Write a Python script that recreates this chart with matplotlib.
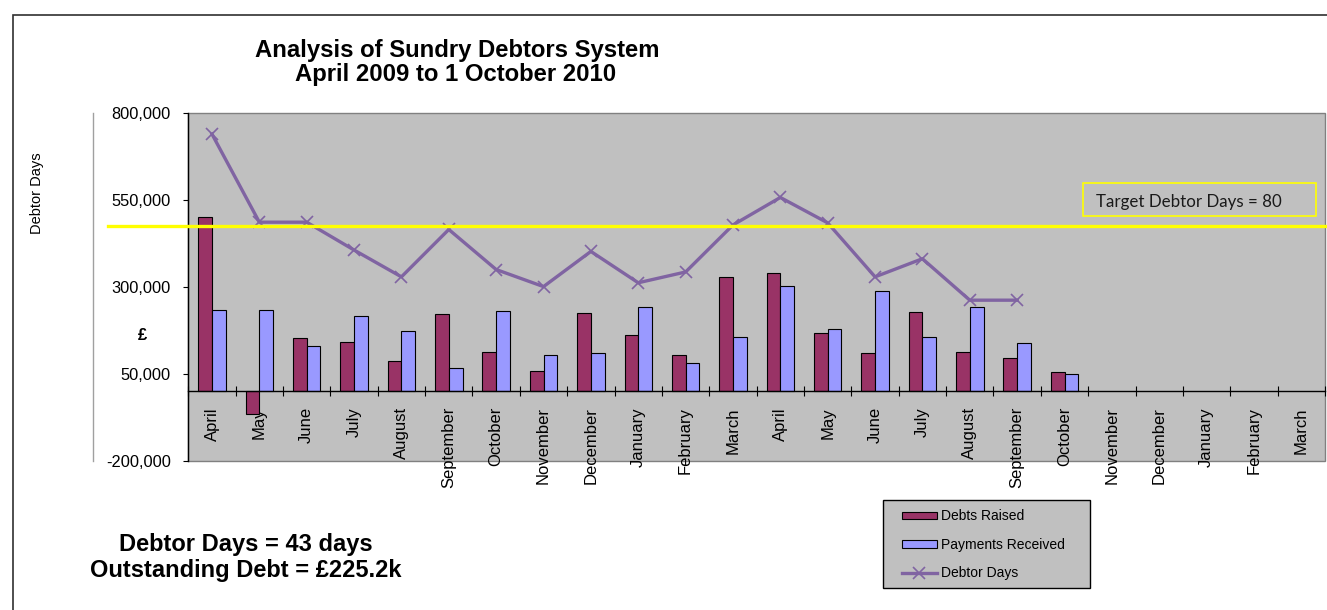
import numpy as np
import matplotlib
matplotlib.use("Agg")
import matplotlib.pyplot as plt
from matplotlib.patches import Rectangle
from matplotlib.lines import Line2D
from matplotlib.ticker import FixedLocator, NullFormatter, FuncFormatter

plt.rcParams['font.family'] = ['Liberation Sans', 'DejaVu Sans']

## data
months = ["April", "May", "June", "July", "August", "September", "October",
          "November", "December", "January", "February", "March"] * 2
debts_raised = [500000, -66000, 153000, 141000, 86000, 220000, 112000, 59000,
                223000, 160000, 104000, 327000, 339000, 167000, 108000, 227000,
                112000, 96000, 55000]
payments_received = [232000, 232000, 130000, 216000, 172000, 67000, 231000, 104000,
                     108000, 241000, 81000, 156000, 302000, 178000, 286000, 156000,
                     241000, 137000, 48000]
debtor_days = [738000, 485000, 485000, 405000, 328000, 464000, 349000, 300000,
               401000, 311000, 342000, 477000, 556000, 483000, 328000, 380000,
               261000, 261000]
target_level = 473000
y_ticks = [-200000, 50000, 300000, 550000, 800000]

W, H = 1327, 610
def fx(x):
    return x / W
def fy(y):
    return 1 - y / H

fig = plt.figure(figsize=(W / 100, H / 100), dpi=100)

## outer chart frame and the odd gray line left of the axis
fig.add_artist(Rectangle((fx(13.3), fy(700)), (1400 - 13.3) / W, (700 - 14.7) / H,
                         transform=fig.transFigure, fill=False, edgecolor='#303030', lw=1.2))
fig.add_artist(Line2D([fx(92.7), fx(92.7)], [fy(112.7), fy(460.7)],
                      transform=fig.transFigure, color='#A0A0A0', lw=1))

left, right, top, bottom = 188.3, 1325, 112.5, 460.7
ax = fig.add_axes([fx(left), fy(bottom), (right - left) / W, (bottom - top) / H])
ax.patch.set_facecolor('#C0C0C0')
ax.patch.set_edgecolor('#808080')
ax.patch.set_linewidth(1)

x_dr = np.arange(len(debts_raised))
x_pr = np.arange(len(payments_received))
x_dd = np.arange(len(debtor_days))
bw = 0.29
b1 = ax.bar(x_dr - bw / 2, debts_raised, bw, color='#993366', edgecolor='black', lw=0.8, zorder=2)
b2 = ax.bar(x_pr + bw / 2, payments_received, bw, color='#9999FF', edgecolor='black', lw=0.8, zorder=2)
l1, = ax.plot(x_dd, debtor_days, color='#8064A2', lw=2.4, marker='x', ms=9, mew=1.2, zorder=3)

## target line runs past the plot on the left
span = right - left
ax.axhline(target_level, xmin=(108 - left) / span, xmax=(1330 - left) / span,
           clip_on=False, color='#FFFF00', lw=2.4, zorder=5)

ax.set_xlim(-0.5, 23.5)
ax.set_ylim(-200000, 800000)
ax.set_yticks(y_ticks)
ax.yaxis.set_major_formatter(FuncFormatter(lambda v, p: "{:,.0f}".format(v)))
ax.tick_params(axis='y', direction='out', length=3.6, width=0.8, pad=9, labelsize=11.8)

ax.xaxis.set_major_locator(FixedLocator(np.arange(-0.5, 24, 1)))
ax.xaxis.set_major_formatter(NullFormatter())
ax.set_xticks(np.arange(len(months)), minor=True)
ax.set_xticklabels(months, minor=True)
ax.tick_params(axis='x', which='major', direction='inout', length=7, width=0.8)
ax.tick_params(axis='x', which='minor', length=0, pad=11.5, labelrotation=90, labelsize=12)

ax.spines['top'].set_visible(False)
ax.spines['right'].set_visible(False)
ax.spines['bottom'].set_position(('data', 0))
ax.spines['bottom'].set_linewidth(1)
ax.spines['left'].set_linewidth(1)

## titles and notes
fig.text(fx(457), fy(56.7), "Analysis of Sundry Debtors System", ha='center', va='baseline',
         fontsize=17.2, fontweight='bold')
fig.text(fx(456), fy(80.5), "April 2009 to 1 October 2010", ha='center', va='baseline',
         fontsize=17.2, fontweight='bold')
fig.text(fx(37), fy(193), "Debtor Days", rotation=90, ha='center', va='center', fontsize=10.5)
fig.text(fx(143), fy(336), "£", ha='center', va='center', fontsize=12, fontweight='bold')
fig.text(fx(246), fy(551.5), "Debtor Days = 43 days", ha='center', va='baseline',
         fontsize=17, fontweight='bold')
fig.text(fx(246), fy(577), "Outstanding Debt = £225.2k", ha='center', va='baseline',
         fontsize=17, fontweight='bold')

## target box
fig.add_artist(Rectangle((fx(1083.3), fy(215.7)), (1316 - 1083.3) / W, 33 / H,
                         transform=fig.transFigure, fill=False, edgecolor='#FFFF00', lw=1.2))
tt = fig.text(fx(1096), fy(206.7), "Target Debtor Days = 80", ha='left', va='baseline',
              fontsize=12.7, family=['Lato', 'DejaVu Sans'], color='#1a1a1a')
fig.canvas.draw()
w = tt.get_window_extent(fig.canvas.get_renderer()).width
tt.set_fontsize(12.7 * 185 / w)

## legend
fig.add_artist(Rectangle((fx(882.7), fy(587.7)), (1090 - 882.7) / W, (587.7 - 500) / H,
                         transform=fig.transFigure, facecolor='#C0C0C0', edgecolor='black', lw=1))
fig.legend([b1, b2, l1], ["Debts Raised", "Payments Received", "Debtor Days"],
           loc='upper left', bbox_to_anchor=(fx(902), fy(509.5)), frameon=False,
           borderpad=0, borderaxespad=0, handlelength=2.5, handleheight=0.45,
           handletextpad=0.3, labelspacing=1.04, prop={'size': 10})

fig.savefig('out.png', dpi=100)
